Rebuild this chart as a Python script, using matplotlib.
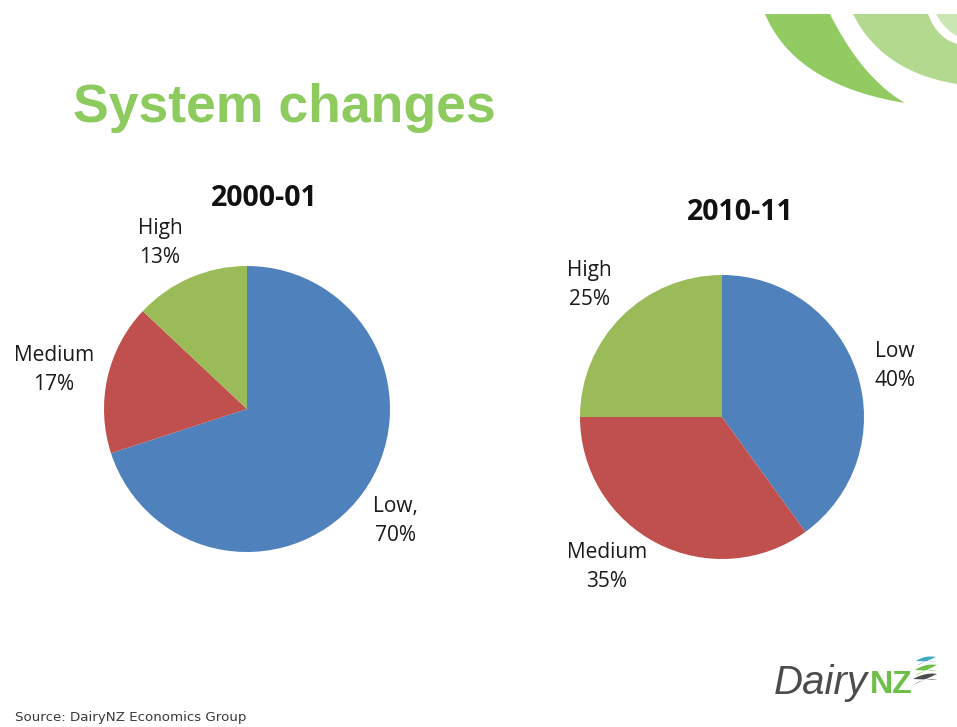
import matplotlib
matplotlib.use("Agg")
import matplotlib.pyplot as plt
import numpy as np

# ---- data ----
categories = ["Low", "Medium", "High"]
values_2000 = [70, 17, 13]
values_2010 = [40, 35, 25]
title_2000 = "2000-01"
title_2010 = "2010-11"
labels_2000 = ["Low,\n70%", "Medium\n17%", "High\n13%"]
labels_2010 = ["Low\n40%", "Medium\n35%", "High\n25%"]
colors = ["#4F81BD", "#C0504D", "#9BBB59"]

W, H = 957, 727
fig = plt.figure(figsize=(W / 100, H / 100), dpi=100)
fig.patch.set_facecolor("white")

# background axes in pixel coordinates
bg = fig.add_axes([0, 0, 1, 1])
bg.set_xlim(0, W)
bg.set_ylim(H, 0)
bg.axis("off")

def bez(p0, c, p1, n=30):
    t = np.linspace(0, 1, n)[:, None]
    p0, c, p1 = (np.array(v, float) for v in (p0, c, p1))
    return ((1 - t) ** 2) * p0 + 2 * (1 - t) * t * c + (t ** 2) * p1

def band(edge_a, edge_b, color, z=1):
    pts = np.vstack([edge_a, edge_b[::-1]])
    bg.fill(pts[:, 0], pts[:, 1], color=color, lw=0, zorder=z)

# swoosh decoration (top right)
band(bez((765, 14), (795, 85), (905, 103)), bez((830, 14), (862, 78), (905, 103)), "#92CB62")
band(bez((853, 14), (882, 72), (957, 84)), bez((928, 14), (937, 38), (957, 44)), "#B2D98E")
band(bez((936, 14), (945, 30), (957, 36)), np.array([[957, 14.0], [957, 36.0]]), "#CBE5B3")
bg.fill([0, W, W, 0], [0, 0, 14, 14], color="white", lw=0, zorder=2)

# Title
bg.text(73, 108, "System changes", fontsize=38.5, fontweight="bold", color="#8DCB5E",
        family="Liberation Sans", va="center", ha="left")

# Source
bg.text(15, 718, "Source: DairyNZ Economics Group", fontsize=9.6, color="#3a3a3a",
        family="DejaVu Sans", va="center", ha="left")

# Logo
bg.text(868, 683, "Dairy", fontsize=29, style="italic", color="#4A4D4A",
        family="Liberation Sans", va="center", ha="right")
bg.text(870, 685, "NZ", fontsize=23, fontweight="bold", color="#6CBF47",
        family="Liberation Sans", va="center", ha="left")
band(bez((916, 661), (925, 655), (936, 657)), bez((936, 662), (925, 660), (916, 666)), "#3FA9C4")
band(bez((915, 670), (926, 663), (937, 665)), bez((937, 671), (926, 668), (915, 676)), "#6CBF47")
band(bez((913, 679), (926, 672), (937, 674)), bez((937, 680), (926, 677), (913, 685)), "#4A4D4A")

label_font = dict(fontsize=15, family="Open Sans", color="#1a1a1a", linespacing=1.5)
title_font = dict(fontsize=20.5, family="Open Sans", fontweight="bold", color="#111111")

def pie_axes(cx, cy, r):
    return fig.add_axes([(cx - r) / W, (H - cy - r) / H, 2 * r / W, 2 * r / H])

ax1 = pie_axes(247, 409, 143)
ax1.pie(values_2000, colors=colors, startangle=90, counterclock=False, radius=1,
        wedgeprops=dict(linewidth=0))
ax1.set_xlim(-1, 1); ax1.set_ylim(-1, 1)

ax2 = pie_axes(722, 417, 142)
ax2.pie(values_2010, colors=colors, startangle=90, counterclock=False, radius=1,
        wedgeprops=dict(linewidth=0))
ax2.set_xlim(-1, 1); ax2.set_ylim(-1, 1)

bg.text(264, 199, title_2000, ha="center", va="center", **title_font)
bg.text(740, 213, title_2010, ha="center", va="center", **title_font)

# labels (positions of text)
pos_2000 = [(395, 521), (54, 370), (160, 243)]
pos_2010 = [(895, 366), (607, 567), (589, 285)]
for lab, (x, y) in zip(labels_2000, pos_2000):
    bg.text(x, y, lab, ha="center", va="center", **label_font)
for lab, (x, y) in zip(labels_2010, pos_2010):
    bg.text(x, y, lab, ha="center", va="center", **label_font)

fig.savefig("out.png", dpi=100, facecolor="white")
